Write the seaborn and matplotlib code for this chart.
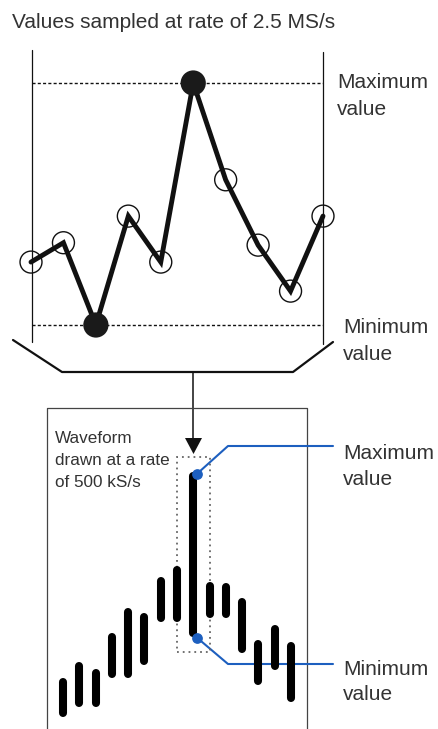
import numpy as np
import matplotlib
matplotlib.use("Agg")
import matplotlib.pyplot as plt
import seaborn as sns
from matplotlib.patches import Rectangle, Polygon

sns.set_style("white")
plt.rcParams['font.family'] = ['Liberation Sans', 'DejaVu Sans']

# sampled values at 2.5 MS/s (arbitrary units, 0 = min, 100 = max)
sample_idx = np.arange(10)
sample_vals = np.array([26, 34, 0, 45, 26, 100, 60, 33, 14, 45])

# min/max pairs drawn at 500 kS/s
col_idx = np.arange(15)
col_max = np.array([13.6, 20, 17.2, 31.6, 41.6, 39.6, 54, 58.4, 96, 52, 51.6, 45.6, 28.8, 34.8, 28])
col_min = np.array([1.2, 5.2, 5.2, 16.8, 16.8, 22, 39.2, 39.2, 33.2, 40.8, 40.8, 26.8, 14, 20, 7.2])

title = "Values sampled at rate of 2.5 MS/s"
note_lines = ["Waveform", "drawn at a rate", "of 500 kS/s"]

W, H = 438, 729
fig = plt.figure(figsize=(W / 100, H / 100), dpi=100)
txt = '#333333'
ink = '#111111'
blue = '#1d5fbf'

# pixel overlay for frames, bracket, arrow and text
ax = fig.add_axes([0, 0, 1, 1])
ax.set_xlim(0, W)
ax.set_ylim(H, 0)
ax.axis('off')
ax.patch.set_alpha(0)


def px_axes(x0, x1, y0, y1):
    a = fig.add_axes([x0 / W, 1 - y1 / H, (x1 - x0) / W, (y1 - y0) / H])
    a.axis('off')
    a.patch.set_alpha(0)
    return a


# ---- top panel ----
ax_top = px_axes(31, 323, 83, 325)
ax_top.set_xlim(0, 9)
ax_top.set_ylim(0, 100)

ax.plot([32, 32], [50, 342], color=ink, lw=0.9)
ax.plot([323, 323], [52, 344], color=ink, lw=0.9)

ax_top.hlines([sample_vals.max(), sample_vals.min()], 0.03, 9, colors=ink,
              lw=1, linestyles=(0, (2.2, 1.6)), clip_on=False)
sns.lineplot(x=sample_idx, y=sample_vals, ax=ax_top, color=ink, lw=3.5,
             solid_joinstyle='miter', clip_on=False)
ext = np.isin(sample_idx, [sample_vals.argmax(), sample_vals.argmin()])
sns.scatterplot(x=sample_idx[~ext], y=sample_vals[~ext], ax=ax_top, s=250,
                facecolor='none', edgecolor=ink, linewidth=1, clip_on=False, zorder=3)
sns.scatterplot(x=sample_idx[ext], y=sample_vals[ext], ax=ax_top, s=330,
                color='#1a1a1a', edgecolor='none', clip_on=False, zorder=4)

ax.text(12, 28, title, fontsize=15, color=txt, va='baseline')
ax.text(337, 88, "Maximum", fontsize=15, color=txt, va='baseline')
ax.text(337, 115, "value", fontsize=15, color=txt, va='baseline')
ax.text(343, 333, "Minimum", fontsize=15, color=txt, va='baseline')
ax.text(343, 360, "value", fontsize=15, color=txt, va='baseline')

# bracket and arrow
ax.plot([13, 62, 293, 333], [340, 372, 372, 342], color=ink, lw=1.6,
        solid_joinstyle='round')
ax.plot([193, 193], [372, 440], color=ink, lw=1.1)
ax.add_patch(Polygon([[185, 438], [202, 438], [193.5, 454]], closed=True,
                     color=ink, lw=0))

# ---- bottom panel ----
ax.plot([47, 47, 307, 307], [735, 408, 408, 735], color='#444444', lw=0.9)
for i, line in enumerate(note_lines):
    ax.text(55, 443 + 22 * i, line, fontsize=12.3, color=txt, va='baseline')

ax_bot = px_axes(63, 291, 476, 716)
ax_bot.set_xlim(0, 14)
ax_bot.set_ylim(0, 96)
ax_bot.vlines(col_idx, col_min, col_max, colors='black', lw=5.8,
              capstyle='round', clip_on=False)

pk = int(np.argmax(col_max - col_min))
ax_bot.add_patch(Rectangle((pk - 1, col_min[pk] - 7.6), 2, col_max[pk] - col_min[pk] + 15.2,
                           fill=False, ec='#666666', lw=1.3, ls=(0, (1, 2.2)),
                           clip_on=False))
ax_bot.scatter([pk + 0.25, pk + 0.25], [col_max[pk] + 1, col_min[pk] - 2], s=45,
               color=blue, zorder=5, clip_on=False)

to_px = ax.transData.inverted()
top_pt = to_px.transform(ax_bot.transData.transform((pk + 0.25, col_max[pk] + 1)))
bot_pt = to_px.transform(ax_bot.transData.transform((pk + 0.25, col_min[pk] - 2)))
ax.plot([top_pt[0], 228, 333], [top_pt[1], 446, 446], color=blue, lw=1.5)
ax.plot([bot_pt[0], 228, 333], [bot_pt[1], 664, 664], color=blue, lw=1.5)

ax.text(343, 459, "Maximum", fontsize=15, color=txt, va='baseline')
ax.text(343, 485, "value", fontsize=15, color=txt, va='baseline')
ax.text(343, 675, "Minimum", fontsize=15, color=txt, va='baseline')
ax.text(343, 700, "value", fontsize=15, color=txt, va='baseline')

fig.savefig("out.png", dpi=100)
